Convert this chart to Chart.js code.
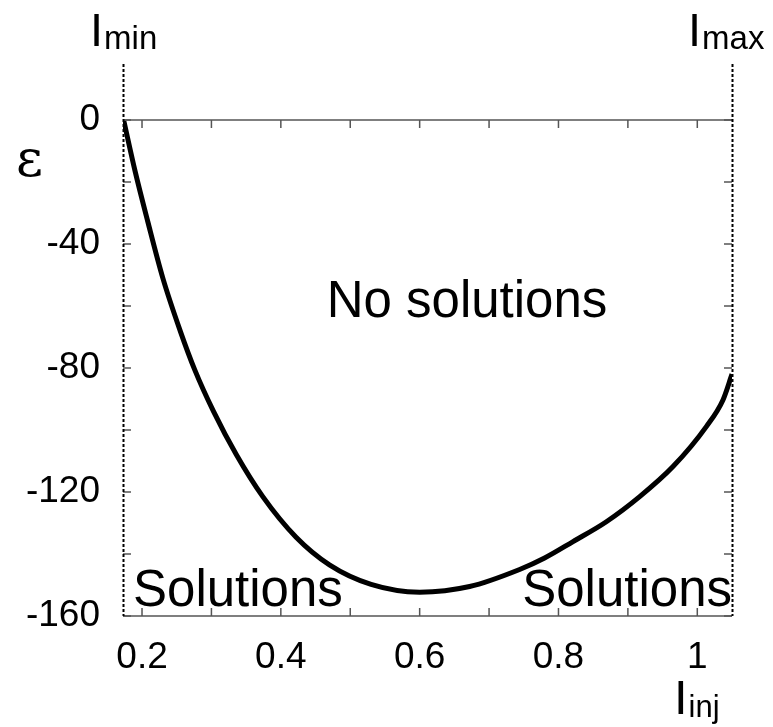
<!DOCTYPE html>
<html>
<head>
<meta charset="utf-8">
<script src="https://cdn.jsdelivr.net/npm/chart.js@4.4.1/dist/chart.umd.min.js"></script>
<style>
  html, body { margin: 0; padding: 0; background: #fff; }
  #wrap { position: relative; width: 773px; height: 727px; }
</style>
</head>
<body>
<div id="wrap"><canvas id="chart" width="773" height="727"></canvas></div>
<script>
  // injection current vs epsilon boundary curve
  const I_INJ = [0.1735, 0.19, 0.208, 0.23, 0.255, 0.276, 0.303, 0.336, 0.374, 0.422, 0.47, 0.53, 0.6, 0.672, 0.744, 0.78, 0.821, 0.869, 0.917, 0.965, 1.013, 1.037, 1.05];
  const EPS = [0, -16.5, -32.5, -51, -68, -80.6, -94, -108, -121.5, -134.6, -143.5, -149.8, -152.3, -150.5, -145, -141.3, -136, -129.6, -121.5, -111.8, -98.9, -90.3, -82];

  const I_MIN = 0.1726;
  const I_MAX = 1.05;
  const EPS_MIN = -160;
  const EPS_MAX = 0;

  const X_TICKS = [0.2, 0.4, 0.6, 0.8, 1];
  const X_TICK_LABELS = ["0.2", "0.4", "0.6", "0.8", "1"];
  const X_MINOR = [0.2, 0.3, 0.4, 0.5, 0.6, 0.7, 0.8, 0.9, 1];
  const Y_TICKS = [-160, -120, -80, -40, 0];
  const Y_MINOR = [-160, -140, -120, -100, -80, -60, -40, -20, 0];

  const FONT = "'Liberation Sans', Arial, Helvetica, sans-serif";

  function drawSub(ctx, x, y, main, sub, mainSize, subSize) {
    ctx.font = `${mainSize}px ${FONT}`;
    ctx.textAlign = "left";
    ctx.textBaseline = "alphabetic";
    ctx.fillText(main, x, y);
    const w = ctx.measureText(main).width;
    ctx.font = `${subSize}px ${FONT}`;
    ctx.fillText(sub, x + w + 1, y + 3);
  }

  const decor = {
    id: "decor",
    afterDatasetsDraw(chart) {
      const { ctx, chartArea: a, scales } = chart;
      const xs = scales.x, ys = scales.y;
      ctx.save();

      // frame top / bottom
      ctx.strokeStyle = "#555";
      ctx.lineWidth = 1.5;
      ctx.beginPath();
      ctx.moveTo(a.left, a.top); ctx.lineTo(a.right, a.top);
      ctx.moveTo(a.left, a.bottom); ctx.lineTo(a.right, a.bottom);
      ctx.stroke();

      // inward ticks on all four sides
      const tl = 8;
      ctx.beginPath();
      X_MINOR.forEach((v) => {
        const px = xs.getPixelForValue(v);
        ctx.moveTo(px, a.bottom); ctx.lineTo(px, a.bottom - tl);
        ctx.moveTo(px, a.top); ctx.lineTo(px, a.top + tl);
      });
      Y_MINOR.forEach((v) => {
        const py = ys.getPixelForValue(v);
        ctx.moveTo(a.left, py); ctx.lineTo(a.left + tl, py);
        ctx.moveTo(a.right, py); ctx.lineTo(a.right - tl, py);
      });
      ctx.stroke();

      // dashed limits
      ctx.strokeStyle = "#000";
      ctx.lineWidth = 2;
      ctx.setLineDash([3, 2]);
      [I_MIN, I_MAX].forEach((v) => {
        const px = Math.round(xs.getPixelForValue(v)) + 0.5;
        ctx.beginPath();
        ctx.moveTo(px, 64);
        ctx.lineTo(px, a.bottom);
        ctx.stroke();
      });
      ctx.setLineDash([]);

      // region labels
      ctx.fillStyle = "#000";
      ctx.font = `51px ${FONT}`;
      ctx.textBaseline = "alphabetic";
      ctx.textAlign = "center";
      ctx.fillText("No solutions", 467, 317);
      ctx.textAlign = "left";
      ctx.fillText("Solutions", 133, 606);
      ctx.textAlign = "right";
      ctx.fillText("Solutions", 732, 606);

      // axis labels
      drawSub(ctx, 90, 46, "I", "min", 47, 33);
      drawSub(ctx, 688, 46, "I", "max", 47, 33);
      drawSub(ctx, 674, 714, "I", "inj", 49, 31);

      ctx.font = "52px 'DejaVu Serif', 'Liberation Serif', serif";
      ctx.textAlign = "left";
      ctx.fillText("ε", 16, 176);

      ctx.restore();
    },
  };

  new Chart(document.getElementById("chart"), {
    type: "scatter",
    data: {
      datasets: [{
        data: I_INJ.map((x, i) => ({ x, y: EPS[i] })),
        showLine: true,
        borderColor: "#000",
        borderWidth: 5,
        pointRadius: 0,
        cubicInterpolationMode: "monotone",
        fill: false,
      }],
    },
    options: {
      responsive: false,
      animation: false,
      layout: { padding: { top: 120, right: 41, left: 0, bottom: 0 } },
      plugins: { legend: { display: false }, tooltip: { enabled: false } },
      scales: {
        x: {
          type: "linear",
          min: I_MIN,
          max: I_MAX,
          afterBuildTicks(axis) { axis.ticks = X_TICKS.map((value) => ({ value })); },
          afterFit(axis) { axis.height = 111; },
          grid: { display: false, drawTicks: false },
          border: { display: false },
          ticks: {
            color: "#000",
            font: { family: FONT, size: 37 },
            padding: 20,
            maxRotation: 0,
            callback(value) {
              const i = X_TICKS.indexOf(value);
              return i >= 0 ? X_TICK_LABELS[i] : "";
            },
          },
        },
        y: {
          type: "linear",
          min: EPS_MIN,
          max: EPS_MAX,
          afterBuildTicks(axis) { axis.ticks = Y_TICKS.map((value) => ({ value })); },
          afterFit(axis) { axis.width = 123; },
          grid: { display: false, drawTicks: false },
          border: { display: false },
          ticks: {
            color: "#000",
            font: { family: FONT, size: 37 },
            padding: 23,
            callback(value) { return String(value); },
          },
        },
      },
    },
    plugins: [decor],
  });
</script>
</body>
</html>
